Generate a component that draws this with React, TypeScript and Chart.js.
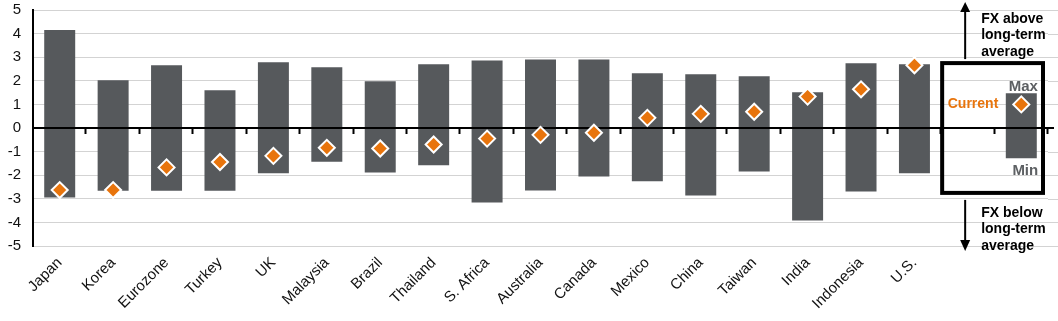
import React, { useEffect, useRef } from "react";
import { Chart, registerables } from "chart.js";

Chart.register(...registerables);

const categories = [
  "Japan", "Korea", "Eurozone", "Turkey", "UK", "Malaysia", "Brazil", "Thailand",
  "S. Africa", "Australia", "Canada", "Mexico", "China", "Taiwan", "India",
  "Indonesia", "U.S.", "", "",
];
const maxValues = [4.15, 2.02, 2.66, 1.6, 2.79, 2.57, 1.98, 2.7, 2.86, 2.9, 2.9, 2.32, 2.28, 2.19, 1.51, 2.74, 2.7, null, 1.47];
const minValues = [-2.94, -2.66, -2.66, -2.66, -1.92, -1.43, -1.89, -1.58, -3.16, -2.65, -2.05, -2.26, -2.86, -1.84, -3.92, -2.69, -1.92, null, -1.28];
const currentValues = [-2.63, -2.63, -1.67, -1.44, -1.18, -0.84, -0.87, -0.7, -0.45, -0.29, -0.2, 0.43, 0.6, 0.69, 1.33, 1.64, 2.66, null, 1.0];
const yTicks = [5, 4, 3, 2, 1, 0, -1, -2, -3, -4, -5];

const BAR_COLOR = "#56595c";
const ORANGE = "#e8740c";
const GRID = "#d3d3d3";
const FONT = "'Liberation Sans', Arial, sans-serif";

const annotationPlugin = {
  id: "annotations",
  beforeDatasetsDraw(chart: any) {
    const { ctx, chartArea, scales } = chart;
    const y = scales.y;
    ctx.save();
    ctx.strokeStyle = GRID;
    ctx.lineWidth = 1;
    yTicks.forEach((v) => {
      if (v === 0) return;
      const py = Math.round(y.getPixelForValue(v)) + 0.5;
      ctx.beginPath();
      ctx.moveTo(chartArea.right, py);
      ctx.lineTo(chart.width, py);
      ctx.stroke();
    });
    ctx.restore();
  },
  afterDatasetDraw(chart: any, args: any) {
    if (args.index !== 0) return;
    const { ctx, chartArea, scales } = chart;
    const y = scales.y;
    const y0 = y.getPixelForValue(0);
    ctx.save();
    ctx.strokeStyle = "#000";
    ctx.lineWidth = 2;
    ctx.beginPath();
    ctx.moveTo(chartArea.left, y0);
    ctx.lineTo(chart.width - 4, y0);
    ctx.stroke();
    const n = categories.length;
    const step = (chartArea.right - chartArea.left) / n;
    for (let i = 1; i <= n; i++) {
      const px = Math.round(chartArea.left + step * i) - 0.5;
      ctx.beginPath();
      ctx.moveTo(px, y0);
      ctx.lineTo(px, y0 + 6);
      ctx.stroke();
    }
    ctx.restore();
  },
  afterDraw(chart: any) {
    const { ctx, chartArea, scales } = chart;
    const x = scales.x;
    const y = scales.y;
    const n = categories.length;
    const step = (chartArea.right - chartArea.left) / n;
    const boxLeft = chartArea.left + step * 17 + 1;
    const boxRight = chartArea.right - 5;
    const boxTop = y.getPixelForValue(2.75);
    const boxBottom = y.getPixelForValue(-2.75);
    ctx.save();
    ctx.strokeStyle = "#000";
    ctx.lineWidth = 4;
    ctx.strokeRect(boxLeft, boxTop, boxRight - boxLeft, boxBottom - boxTop);

    // arrows
    const ax = boxLeft + 23;
    ctx.lineWidth = 2;
    ctx.fillStyle = "#000";
    ctx.beginPath();
    ctx.moveTo(ax, boxTop - 4);
    ctx.lineTo(ax, 10);
    ctx.stroke();
    ctx.beginPath();
    ctx.moveTo(ax - 5, 12);
    ctx.lineTo(ax + 5, 12);
    ctx.lineTo(ax, 2);
    ctx.closePath();
    ctx.fill();

    ctx.beginPath();
    ctx.moveTo(ax, boxBottom + 7);
    ctx.lineTo(ax, 242);
    ctx.stroke();
    ctx.beginPath();
    ctx.moveTo(ax - 5, 240);
    ctx.lineTo(ax + 5, 240);
    ctx.lineTo(ax, 251);
    ctx.closePath();
    ctx.fill();

    ctx.font = `bold 14px ${FONT}`;
    ctx.textAlign = "left";
    ctx.textBaseline = "middle";
    ctx.fillStyle = "#000";
    const tx = ax + 16;
    ["FX above", "long-term", "average"].forEach((t, i) => ctx.fillText(t, tx, 19 + i * 16.5));
    ["FX below", "long-term", "average"].forEach((t, i) => ctx.fillText(t, tx, 213 + i * 16.5));

    // legend labels
    const lx = x.getPixelForValue(18);
    ctx.font = `bold 15px ${FONT}`;
    ctx.fillStyle = "#5d6063";
    ctx.textAlign = "center";
    ctx.fillText("Max", lx + 2, y.getPixelForValue(1.73));
    ctx.fillText("Min", lx + 4, y.getPixelForValue(-1.82));
    ctx.font = `bold 14px ${FONT}`;
    ctx.fillStyle = ORANGE;
    ctx.textAlign = "right";
    ctx.fillText("Current", lx - 23, y.getPixelForValue(1.0));
    ctx.restore();
  },
};

export default function App() {
  const canvasRef = useRef<HTMLCanvasElement | null>(null);

  useEffect(() => {
    if (!canvasRef.current) return;
    const chart = new Chart(canvasRef.current, {
      type: "bar",
      data: {
        labels: categories,
        datasets: [
          {
            type: "bar",
            label: "Range",
            data: categories.map((_, i) =>
              maxValues[i] == null ? null : [minValues[i] as number, maxValues[i] as number]
            ) as any,
            backgroundColor: BAR_COLOR,
            borderWidth: 0,
            barPercentage: 0.58,
            categoryPercentage: 1,
            order: 2,
          },
          {
            type: "line",
            label: "Current",
            data: currentValues as any,
            showLine: false,
            pointStyle: "rectRot",
            pointRadius: 8,
            pointBackgroundColor: ORANGE,
            pointBorderColor: "#ffffff",
            pointBorderWidth: 2,
            order: 1,
          } as any,
        ],
      },
      options: {
        responsive: true,
        maintainAspectRatio: false,
        animation: false,
        layout: { padding: { top: 10, right: 7, left: 0, bottom: 0 } },
        plugins: {
          legend: { display: false },
          tooltip: { enabled: false },
        },
        scales: {
          x: {
            grid: { display: false },
            border: { display: false },
            ticks: {
              maxRotation: 45,
              minRotation: 45,
              autoSkip: false,
              color: "#111",
              font: { family: FONT, size: 15 },
              padding: 0,
            },
            afterFit: (scale: any) => {
              scale.height = 75;
              scale.paddingLeft = 0;
              scale.paddingRight = 0;
            },
          },
          y: {
            min: -5,
            max: 5,
            afterBuildTicks: (scale: any) => {
              scale.ticks = yTicks.map((v) => ({ value: v }));
            },
            grid: {
              color: (c: any) => (c.tick && c.tick.value === 0 ? "rgba(0,0,0,0)" : GRID),
              lineWidth: 1,
              drawTicks: false,
            },
            border: { display: true, color: "#000", width: 2 },
            ticks: {
              color: "#111",
              font: { family: FONT, size: 15 },
              padding: 12,
            },
            afterFit: (scale: any) => {
              scale.width = 33;
              scale.paddingTop = 0;
              scale.paddingBottom = 0;
            },
          },
        },
      },
      plugins: [annotationPlugin],
    });
    return () => chart.destroy();
  }, []);

  return (
    <div style={{ position: "absolute", left: 0, top: 0, width: 1058, height: 321, background: "#fff" }}>
      <canvas ref={canvasRef} />
    </div>
  );
}
